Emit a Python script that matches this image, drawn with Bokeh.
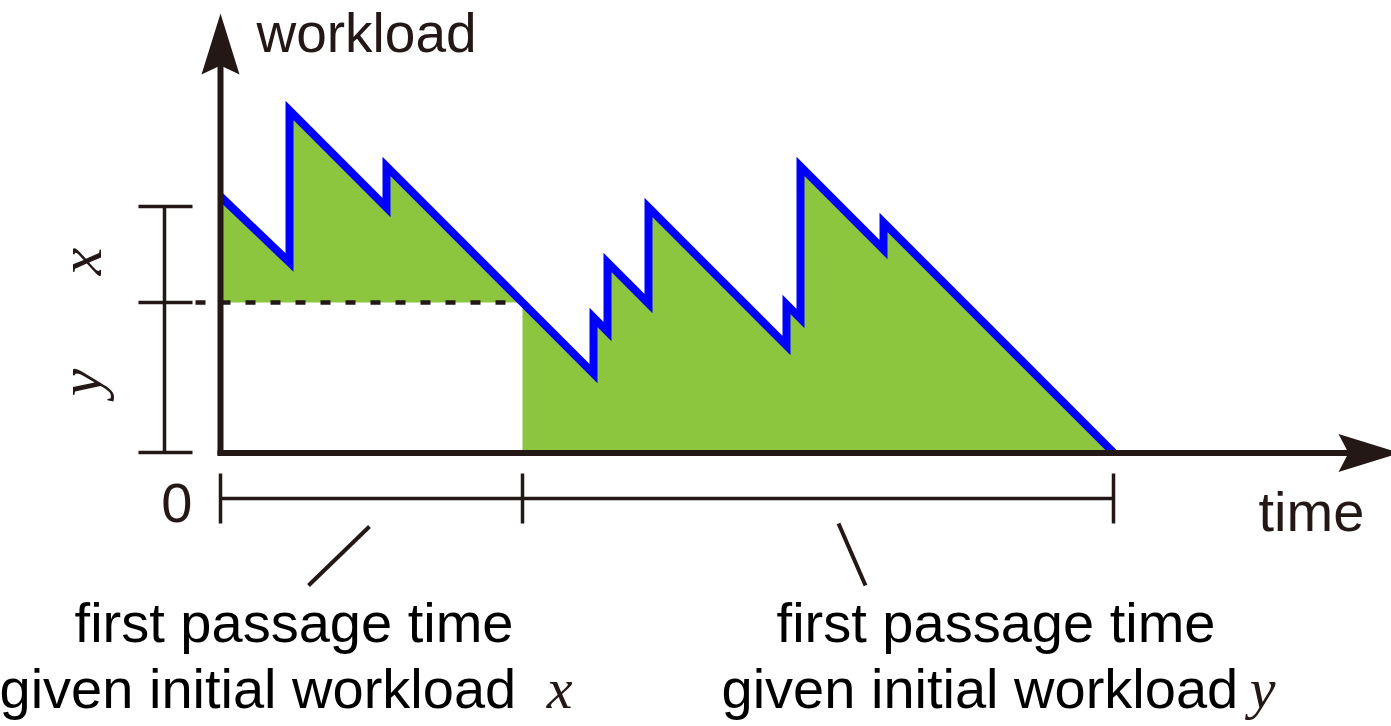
import math
import numpy as np
from bokeh.plotting import figure
from bokeh.models import Range1d
from bokeh.core.properties import value
from bokeh.embed import file_html
from bokeh.resources import INLINE

# ---- data (time vs. workload sample path) ----
time = [0, 69, 69, 166, 166, 302, 373, 373, 387, 387, 428, 428, 566, 566, 580, 580, 663, 663, 893]
workload = [256, 190, 342, 245, 286, 150, 79, 135, 121, 190, 149, 245, 107, 148, 134, 286, 203, 230, 0]
level_y = 150          # workload level y (dashed line)
level_xy = 246         # workload level x + y
passage_times = [0, 302, 893]

DARK = "#231815"
GREEN = "#8CC63F"
BLUE = "#0000FF"
SANS = value("Liberation Sans")
SERIF = value("Liberation Serif")
FS = value("56px")
OFF = 21  # text baseline compensation

W, H = 1391, 726
p = figure(width=W, height=H, x_range=Range1d(-220, 1171), y_range=Range1d(-274, 452),
           output_backend="svg", toolbar_location=None, x_axis_type=None, y_axis_type=None,
           min_border=0, outline_line_color=None, background_fill_color="white")
p.title.visible = False

t = np.array(time, dtype=float)
w = np.array(workload, dtype=float)
k = time.index(passage_times[1])

# green areas
p.varea(x=t[:k + 1], y1=level_y, y2=w[:k + 1], fill_color=GREEN, fill_alpha=1)
p.varea(x=t[k:], y1=0, y2=w[k:], fill_color=GREEN, fill_alpha=1)

# dashed level line
p.line([-25, passage_times[1] + 1], [level_y, level_y], line_width=4.5, line_dash="10 15", color=DARK)

# sample path
p.line(time, workload, line_width=8, color=BLUE, line_join="miter", line_cap="butt")

# axes with arrows
p.line([0, 0], [-3, 390], line_width=6, color=DARK)
p.patch([0, -19, 0, 19], [439, 378, 387, 378], color=DARK, line_width=0)
p.line([-3, 1130], [-0.5, -0.5], line_width=6, color=DARK)
p.patch([1179, 1118, 1128, 1118], [-0.5, 18.5, -0.5, -19.5], color=DARK, line_width=0)

# left bracket (x and y)
p.multi_line([[-56, -56], [-82, -28], [-82, -28], [-82, -28]],
             [[0, level_xy], [0, 0], [level_y, level_y], [level_xy, level_xy]],
             line_width=3.5, color=DARK)

# bottom bracket (first passage times)
p.multi_line([[passage_times[0], passage_times[-1]]] + [[pt, pt] for pt in passage_times],
             [[-46, -46]] + [[-21, -71] for _ in passage_times],
             line_width=3.5, color=DARK)

# leader lines
p.multi_line([[88, 149], [618, 645]], [[-133, -74], [-71, -133]], line_width=4, color=DARK)

# axis titles
p.text(x=[36], y=[399 + OFF], text=["workload"], text_font=SANS, text_font_size=value("55px"),
       text_color=DARK, text_align="left", text_baseline="alphabetic")
p.text(x=[1038], y=[-80 + OFF], text=["time"], text_font=SANS, text_font_size=FS,
       text_color=DARK, text_align="left", text_baseline="alphabetic")
p.text(x=[-28], y=[-71 + OFF], text=["0"], text_font=SANS, text_font_size=FS,
       text_color=DARK, text_align="right", text_baseline="alphabetic")

# rotated italic labels
p.text(x=[-120 - OFF, -120 - OFF], y=[191, 70], text=["x", "y"], angle=math.pi / 2,
       text_font=SERIF, text_font_style="italic", text_font_size=value("62px"),
       text_color=DARK, text_align="center", text_baseline="alphabetic")

# captions
p.text(x=[73.5, 775.5], y=[-191 + OFF, -191 + OFF], text=["first passage time", "first passage time"],
       text_font=SANS, text_font_size=FS, text_color="black",
       text_align="center", text_baseline="alphabetic")
p.text(x=[-221, 501], y=[-257 + OFF, -257 + OFF], text=["given initial workload", "given initial workload"],
       text_font=SANS, text_font_size=FS, text_color="black",
       text_align="left", text_baseline="alphabetic")
p.text(x=[352, 1055], y=[-257 + OFF, -257 + OFF], text=["x", "y"],
       text_font=SERIF, text_font_style="italic", text_font_size=value("58px"),
       text_color=DARK, text_align="right", text_baseline="alphabetic")

open("out.html", "w").write(file_html(p, INLINE))
